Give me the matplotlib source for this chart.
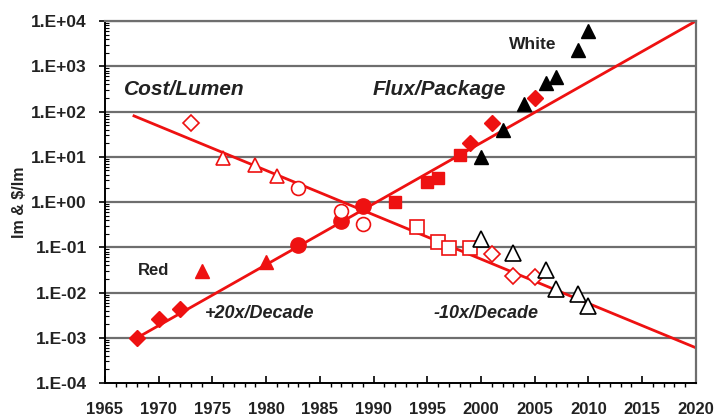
import numpy as np
import matplotlib.pyplot as plt
from matplotlib.ticker import FixedLocator, NullFormatter

plt.rcParams['font.family'] = ['Liberation Sans', 'DejaVu Sans']

# Flux/Package (filled) - red LEDs
red_diamond_years = [1968, 1970, 1972, 1999, 2001, 2005]
red_diamond_flux = [1.0e-3, 2.6e-3, 4.3e-3, 20, 56, 200]
red_triangle_years = [1980]
red_triangle_flux = [0.048]
red_circle_years = [1983, 1987, 1989]
red_circle_flux = [0.11, 0.38, 0.82]
red_square_years = [1992, 1995, 1996, 1998]
red_square_flux = [1.0, 2.75, 3.4, 11]

# Flux/Package (filled) - white LEDs
white_years = [2000, 2002, 2004, 2006, 2007, 2009, 2010]
white_flux = [10, 39, 150, 430, 580, 2300, 6000]

# Cost/Lumen (open) - red LEDs
cost_diamond_years = [1973, 2001, 2003, 2005]
cost_diamond = [56, 0.07, 0.023, 0.022]
cost_triangle_years = [1976, 1979, 1981]
cost_triangle = [9.5, 6.6, 3.7]
cost_circle_years = [1983, 1987, 1989]
cost_circle = [2.0, 0.63, 0.32]
cost_square_years = [1994, 1996, 1997, 1999]
cost_square = [0.28, 0.13, 0.098, 0.098]

# Cost/Lumen (open) - white LEDs
white_cost_years = [2000, 2003, 2006, 2007, 2009, 2010]
white_cost = [0.15, 0.075, 0.032, 0.012, 0.0093, 0.005]

# trend lines
flux_fit_years = [1968, 2020]
flux_fit = [1.0e-3, 1.0e4]
cost_fit_years = [1967.7, 2020]
cost_fit = [80, 6.0e-4]

# "Red" legend marker
red_key_year = [1974]
red_key_value = [0.03]

x_ticks = list(range(1965, 2021, 5))
y_ticks = [1e-4, 1e-3, 1e-2, 1e-1, 1e0, 1e1, 1e2, 1e3, 1e4]
y_tick_labels = ['1.E-04', '1.E-03', '1.E-02', '1.E-01', '1.E+00',
                 '1.E+01', '1.E+02', '1.E+03', '1.E+04']

RED = '#ee1111'
INK = '#222222'

fig = plt.figure(figsize=(7.16, 4.16), dpi=100)
ax = fig.add_axes([0.1466, 0.0793, 0.8254, 0.8702])
ax.set_yscale('log')
ax.set_xlim(1965, 2020)
ax.set_ylim(1e-4, 1e4)

# grid
for y in y_ticks[1:]:
    ax.axhline(y, color='#6e6e6e', lw=1.6, zorder=1)

# trend lines
ax.plot(flux_fit_years, flux_fit, color=RED, lw=2, zorder=2)
ax.plot(cost_fit_years, cost_fit, color=RED, lw=2, zorder=2)

# filled markers
ax.plot(red_diamond_years, red_diamond_flux, 'D', color=RED, ms=8.5, ls='none', zorder=3)
ax.plot(red_triangle_years, red_triangle_flux, '^', color=RED, ms=10, ls='none', zorder=3)
ax.plot(red_circle_years, red_circle_flux, 'o', color=RED, ms=11, ls='none', zorder=3)
ax.plot(red_square_years, red_square_flux, 's', color=RED, ms=8.5, ls='none', zorder=3)
ax.plot(white_years, white_flux, '^', color='black', ms=10, ls='none', zorder=3)
ax.plot(red_key_year, red_key_value, '^', color=RED, ms=10, ls='none', zorder=3)

# open markers
open_kw = dict(ls='none', mfc='white', mew=1.2, zorder=3)
ax.plot(cost_diamond_years, cost_diamond, 'D', color=RED, ms=8, **open_kw)
ax.plot(cost_triangle_years, cost_triangle, '^', color=RED, ms=10, **open_kw)
ax.plot(cost_circle_years, cost_circle, 'o', color=RED, ms=10, **open_kw)
ax.plot(cost_square_years, cost_square, 's', color=RED, ms=10, **open_kw)
ax.plot(white_cost_years, white_cost, '^', color='black', ms=12, **open_kw)

# text
ax.text(1966.8, 300, 'Cost/Lumen', style='italic', va='center',
        fontsize=15, fontweight='bold', color=INK)
ax.text(1989.9, 300, 'Flux/Package', style='italic', va='center',
        fontsize=15, fontweight='bold', color=INK)
ax.text(2002.6, 2950, 'White', va='center', fontsize=12.5, fontweight='bold', color=INK)
ax.text(1968.1, 0.031, 'Red', va='center', fontsize=12, fontweight='bold', color=INK)
ax.text(1974.3, 0.0035, '+20x/Decade', style='italic', va='center', fontsize=13,
        fontweight='bold', color=INK)
ax.text(1995.6, 0.0035, '-10x/Decade', style='italic', va='center', fontsize=13,
        fontweight='bold', color=INK)

# axes styling
for side in ['top', 'right']:
    ax.spines[side].set_color('#6e6e6e')
    ax.spines[side].set_linewidth(1.6)
for side in ['left', 'bottom']:
    ax.spines[side].set_color('black')
    ax.spines[side].set_linewidth(1.4)

ax.set_xticks(x_ticks)
ax.xaxis.set_minor_locator(FixedLocator(np.arange(1965, 2021, 1)))
ax.tick_params(axis='x', which='major', direction='in', length=5, width=1.2,
               labelsize=12, pad=14)
ax.tick_params(axis='x', which='minor', direction='out', length=3, width=1)
ax.set_yticks(y_ticks)
ax.set_yticklabels(y_tick_labels)
ax.yaxis.set_minor_formatter(NullFormatter())
ax.tick_params(axis='y', which='major', direction='out', length=4, width=1.2,
               labelsize=12.5, pad=9)
ax.tick_params(axis='y', which='minor', direction='in', length=3, width=0.8)
for lab in ax.get_xticklabels() + ax.get_yticklabels():
    lab.set_fontweight('bold')
    lab.set_color(INK)

ax.set_ylabel('lm & $/lm', fontsize=11.5, fontweight='bold', color=INK, labelpad=3)

fig.savefig('out.png', dpi=100)
